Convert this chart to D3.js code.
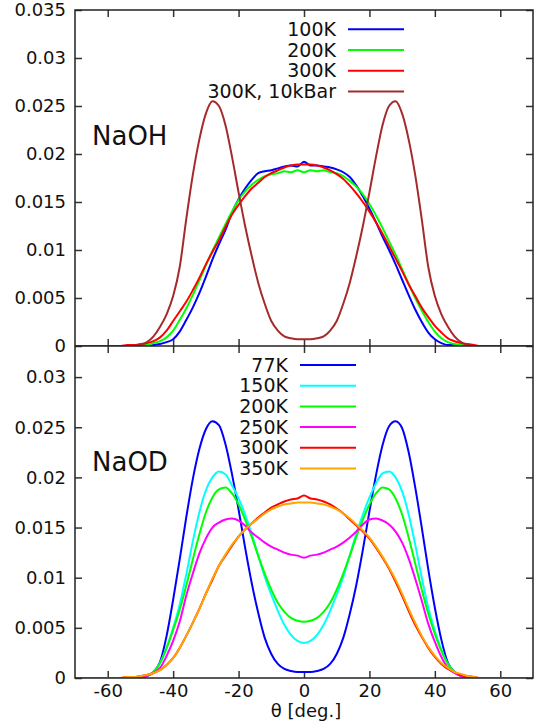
<!DOCTYPE html>
<html>
<head>
<meta charset="utf-8">
<script src="https://cdn.jsdelivr.net/npm/d3@7"></script>
<style>
  body { margin: 0; background: #fff; }
  svg { display: block; font-family: "DejaVu Sans", sans-serif; }
</style>
</head>
<body>
<svg id="chart"></svg>
<script>
// angle grid (deg), shared by every curve
const theta = [-70, -56, -54, -52, -50, -48, -46, -44, -42, -40, -38, -36, -34, -32, -30, -28, -26, -24, -22, -20,
  -18, -16, -14, -12, -10, -8, -6, -4, -2, 0, 2, 4, 6, 8, 10, 12, 14, 16, 18, 20,
  22, 24, 26, 28, 30, 32, 34, 36, 38, 40, 42, 44, 46, 48, 50, 52, 54, 56, 70];

// NaOH
const naoh100 = [0, 0, 0, 0, 0, 0, 0.0001, 0.0002, 0.0004, 0.0007, 0.0015, 0.0027, 0.0040, 0.0055, 0.0072, 0.0090, 0.0106, 0.0121, 0.0139, 0.0153,
  0.0164, 0.0173, 0.0180, 0.0182, 0.0183, 0.0185, 0.0187, 0.0188, 0.0187, 0.0192, 0.0188, 0.0188, 0.0187, 0.0186, 0.0184, 0.0181, 0.0176, 0.0167, 0.0156, 0.0143,
  0.0129, 0.0114, 0.0100, 0.0085, 0.0069, 0.0053, 0.0038, 0.0025, 0.0014, 0.0007, 0.0003, 0.0001, 0.0001, 0, 0, 0, 0, 0, 0];
const naoh200 = [0, 0, 0, 0, 0.0001, 0.0001, 0.0003, 0.0005, 0.0009, 0.0016, 0.0027, 0.0039, 0.0053, 0.0068, 0.0084, 0.0099, 0.0113, 0.0127, 0.0140, 0.0152,
  0.0161, 0.0168, 0.0173, 0.0177, 0.0179, 0.0180, 0.0182, 0.0181, 0.0183, 0.0181, 0.0183, 0.0182, 0.0183, 0.0181, 0.0180, 0.0177, 0.0172, 0.0166, 0.0158, 0.0148,
  0.0136, 0.0123, 0.0109, 0.0095, 0.0080, 0.0065, 0.0050, 0.0037, 0.0025, 0.0015, 0.0008, 0.0004, 0.0002, 0.0001, 0, 0, 0, 0, 0];
const naoh300 = [0, 0, 0.0001, 0.0001, 0.0002, 0.0003, 0.0005, 0.0009, 0.0016, 0.0026, 0.0036, 0.0046, 0.0058, 0.0071, 0.0085, 0.0098, 0.0110, 0.0124, 0.0137, 0.0147,
  0.0156, 0.0164, 0.0170, 0.0176, 0.0180, 0.0183, 0.0186, 0.0188, 0.0189, 0.0189, 0.0189, 0.0188, 0.0186, 0.0183, 0.0179, 0.0174, 0.0167, 0.0159, 0.0150, 0.0140,
  0.0129, 0.0117, 0.0104, 0.0091, 0.0078, 0.0064, 0.0052, 0.0040, 0.0030, 0.0021, 0.0014, 0.0008, 0.0005, 0.0003, 0.0002, 0.0001, 0, 0, 0];
const naoh300p = [0, 0, 0, 0, 0.0001, 0.0004, 0.0010, 0.0020, 0.0033, 0.0052, 0.0082, 0.0132, 0.0178, 0.0215, 0.0242, 0.0255, 0.0250, 0.0230, 0.0197, 0.0160,
  0.0125, 0.0094, 0.0066, 0.0044, 0.0026, 0.0016, 0.0010, 0.0008, 0.0007, 0.0007, 0.0007, 0.0008, 0.0010, 0.0016, 0.0026, 0.0044, 0.0066, 0.0094, 0.0125, 0.0160,
  0.0197, 0.0230, 0.0250, 0.0255, 0.0242, 0.0215, 0.0178, 0.0132, 0.0082, 0.0052, 0.0033, 0.0020, 0.0010, 0.0004, 0.0001, 0, 0, 0, 0];

// NaOD
const naod77 = [0, 0, 0, 0, 0.0001, 0.0002, 0.0006, 0.0016, 0.0042, 0.0078, 0.0118, 0.0160, 0.0198, 0.0228, 0.0248, 0.0256, 0.0252, 0.0233, 0.0203, 0.0168,
  0.0130, 0.0095, 0.0065, 0.0040, 0.0024, 0.0014, 0.0009, 0.0007, 0.0006, 0.0006, 0.0006, 0.0007, 0.0009, 0.0014, 0.0024, 0.0040, 0.0064, 0.0093, 0.0128, 0.0166,
  0.0202, 0.0232, 0.0251, 0.0256, 0.0249, 0.0225, 0.0190, 0.0150, 0.0108, 0.0070, 0.0038, 0.0015, 0.0006, 0.0002, 0.0001, 0, 0, 0, 0];
const naod150 = [0, 0, 0, 0, 0.0001, 0.0002, 0.0006, 0.0015, 0.0030, 0.0050, 0.0073, 0.0103, 0.0136, 0.0165, 0.0187, 0.0200, 0.0206, 0.0203, 0.0192, 0.0179,
  0.0163, 0.0144, 0.0122, 0.0101, 0.0083, 0.0067, 0.0053, 0.0043, 0.0037, 0.0035, 0.0037, 0.0043, 0.0053, 0.0067, 0.0083, 0.0101, 0.0122, 0.0144, 0.0163, 0.0180,
  0.0194, 0.0204, 0.0206, 0.0200, 0.0186, 0.0163, 0.0133, 0.0100, 0.0070, 0.0047, 0.0028, 0.0014, 0.0006, 0.0002, 0.0001, 0, 0, 0, 0];
const naod200 = [0, 0, 0, 0, 0.0001, 0.0002, 0.0006, 0.0015, 0.0030, 0.0048, 0.0068, 0.0092, 0.0118, 0.0143, 0.0165, 0.0180, 0.0188, 0.0190, 0.0184, 0.0173,
  0.0158, 0.0141, 0.0122, 0.0104, 0.0088, 0.0075, 0.0066, 0.0060, 0.0057, 0.0056, 0.0057, 0.0060, 0.0066, 0.0075, 0.0088, 0.0104, 0.0122, 0.0141, 0.0158, 0.0173,
  0.0184, 0.0190, 0.0188, 0.0179, 0.0163, 0.0140, 0.0114, 0.0088, 0.0064, 0.0044, 0.0027, 0.0014, 0.0006, 0.0002, 0.0001, 0, 0, 0, 0];
const naod250 = [0, 0, 0, 0.0001, 0.0001, 0.0002, 0.0005, 0.0010, 0.0022, 0.0037, 0.0056, 0.0082, 0.0104, 0.0124, 0.0139, 0.0150, 0.0155, 0.0158, 0.0159, 0.0157,
  0.0152, 0.0145, 0.0140, 0.0135, 0.0131, 0.0128, 0.0125, 0.0123, 0.0122, 0.0120, 0.0122, 0.0123, 0.0125, 0.0128, 0.0131, 0.0135, 0.0140, 0.0146, 0.0153, 0.0158,
  0.0159, 0.0157, 0.0153, 0.0146, 0.0135, 0.0119, 0.0099, 0.0077, 0.0054, 0.0036, 0.0021, 0.0010, 0.0005, 0.0002, 0.0001, 0, 0, 0, 0];
const naod300 = [0, 0, 0.0001, 0.0001, 0.0002, 0.0003, 0.0005, 0.0008, 0.0013, 0.0020, 0.0030, 0.0042, 0.0055, 0.0069, 0.0084, 0.0098, 0.0112, 0.0122, 0.0132, 0.0141,
  0.0148, 0.0154, 0.0160, 0.0165, 0.0170, 0.0173, 0.0176, 0.0178, 0.0179, 0.0182, 0.0179, 0.0178, 0.0176, 0.0173, 0.0169, 0.0164, 0.0158, 0.0152, 0.0146, 0.0139,
  0.0130, 0.0120, 0.0109, 0.0096, 0.0082, 0.0067, 0.0053, 0.0041, 0.0030, 0.0021, 0.0014, 0.0009, 0.0006, 0.0003, 0.0002, 0.0001, 0, 0, 0];
const naod350 = [0, 0, 0.0001, 0.0001, 0.0002, 0.0003, 0.0005, 0.0008, 0.0013, 0.0020, 0.0030, 0.0042, 0.0055, 0.0069, 0.0084, 0.0099, 0.0112, 0.0123, 0.0133, 0.0141,
  0.0148, 0.0154, 0.0159, 0.0164, 0.0168, 0.0171, 0.0173, 0.0174, 0.0175, 0.0175, 0.0175, 0.0174, 0.0173, 0.0171, 0.0168, 0.0164, 0.0159, 0.0153, 0.0147, 0.0140,
  0.0131, 0.0121, 0.0110, 0.0098, 0.0084, 0.0069, 0.0055, 0.0042, 0.0031, 0.0022, 0.0015, 0.0010, 0.0006, 0.0004, 0.0002, 0.0001, 0, 0, 0];

const topLabels = ["100K", "200K", "300K", "300K, 10kBar"];
const topColors = ["#0000ff", "#00ff00", "#ff0000", "#a52a2a"];
const botLabels = ["77K", "150K", "200K", "250K", "300K", "350K"];
const botColors = ["#0000ff", "#00ffff", "#00ff00", "#ff00ff", "#ff0000", "#ffa500"];

const xTicks = [-60, -40, -20, 0, 20, 40, 60];
const yTicksTop = [0, 0.005, 0.01, 0.015, 0.02, 0.025, 0.03, 0.035];
const yTicksBot = [0, 0.005, 0.01, 0.015, 0.02, 0.025, 0.03];

var width = 537, height = 728;
var left = 75, right = 533;
var topY0 = 10, midY = 346, botY1 = 678;

var svg = d3.select("#chart").attr("width", width).attr("height", height);
svg.append("rect").attr("width", width).attr("height", height).attr("fill", "#fff");

var x = d3.scaleLinear().domain([-70, 70]).range([left, right]);
var yTop = d3.scaleLinear().domain([0, 0.035]).range([midY, topY0]);
// lower panel is a bit taller per unit, its top sits at ~0.0331
var yBot = d3.scaleLinear().domain([0, 0.0331]).range([botY1, midY]);

var fmt = d => String(+d.toFixed(4));

function frame(y, yTicks, showX) {
  var g = svg.append("g");
  var ya = y.range();
  g.append("g").attr("transform", "translate(" + left + ",0)")
    .call(d3.axisLeft(y).tickValues(yTicks).tickSize(-7).tickPadding(9).tickFormat(fmt));
  g.append("g").attr("transform", "translate(" + right + ",0)")
    .call(d3.axisRight(y).tickValues(yTicks).tickSize(-7).tickFormat(""));
  g.append("g").attr("transform", "translate(0," + ya[0] + ")")
    .call(d3.axisBottom(x).tickValues(xTicks).tickSize(-7).tickPadding(6).tickFormat(showX ? (d => String(d)) : ""));
  g.append("g").attr("transform", "translate(0," + ya[1] + ")")
    .call(d3.axisTop(x).tickValues(xTicks).tickSize(-7).tickFormat(""));
  g.selectAll(".domain").remove();
  g.selectAll(".tick line").attr("stroke", "#333").attr("stroke-width", 1.5);
  g.selectAll(".tick text").attr("font-size", 18).attr("font-family", "DejaVu Sans").attr("fill", "#111");
  return g;
}

function curves(y, series, colors) {
  var line = d3.line().x((d, i) => x(theta[i])).y(d => y(d)).curve(d3.curveMonotoneX);
  var clipId = "clip" + Math.round(y.range()[1]);
  svg.append("clipPath").attr("id", clipId).append("rect")
    .attr("x", left).attr("y", y.range()[1]).attr("width", right - left).attr("height", y.range()[0] - y.range()[1]);
  series.forEach((s, k) => {
    svg.append("path").attr("d", line(s))
      .attr("clip-path", "url(#" + clipId + ")")
      .attr("fill", "none").attr("stroke", colors[k]).attr("stroke-width", 2).attr("stroke-linejoin", "round");
  });
}

function legend(labels, colors, textX, y0) {
  var g = svg.append("g");
  labels.forEach((lab, i) => {
    var yy = y0 + i * 20.7;
    g.append("text").attr("x", textX).attr("y", yy + 6.5).attr("text-anchor", "end")
      .attr("font-size", 19).attr("fill", "#111").text(lab);
    g.append("line").attr("x1", textX + 12).attr("x2", textX + 68).attr("y1", yy).attr("y2", yy)
      .attr("stroke", colors[i]).attr("stroke-width", 2);
  });
}

frame(yTop, yTicksTop, false);
frame(yBot, yTicksBot, true);

curves(yTop, [naoh100, naoh200, naoh300, naoh300p], topColors);
curves(yBot, [naod77, naod150, naod200, naod250, naod300, naod350], botColors);

legend(topLabels, topColors, 336, 29.3);
legend(botLabels, botColors, 288, 365);

// panel borders
svg.append("rect").attr("x", left).attr("y", topY0).attr("width", right - left).attr("height", botY1 - topY0)
  .attr("fill", "none").attr("stroke", "#222").attr("stroke-width", 1.5);
svg.append("line").attr("x1", left).attr("x2", right).attr("y1", midY).attr("y2", midY)
  .attr("stroke", "#222").attr("stroke-width", 1.5);

svg.append("text").attr("x", 92).attr("y", 145).attr("font-size", 26).attr("fill", "#111").text("NaOH");
svg.append("text").attr("x", 92).attr("y", 471).attr("font-size", 26).attr("fill", "#111").text("NaOD");

svg.append("text").attr("x", 306).attr("y", 717).attr("text-anchor", "middle")
  .attr("font-size", 18).attr("fill", "#111").text("θ [deg.]");
</script>
</body>
</html>
